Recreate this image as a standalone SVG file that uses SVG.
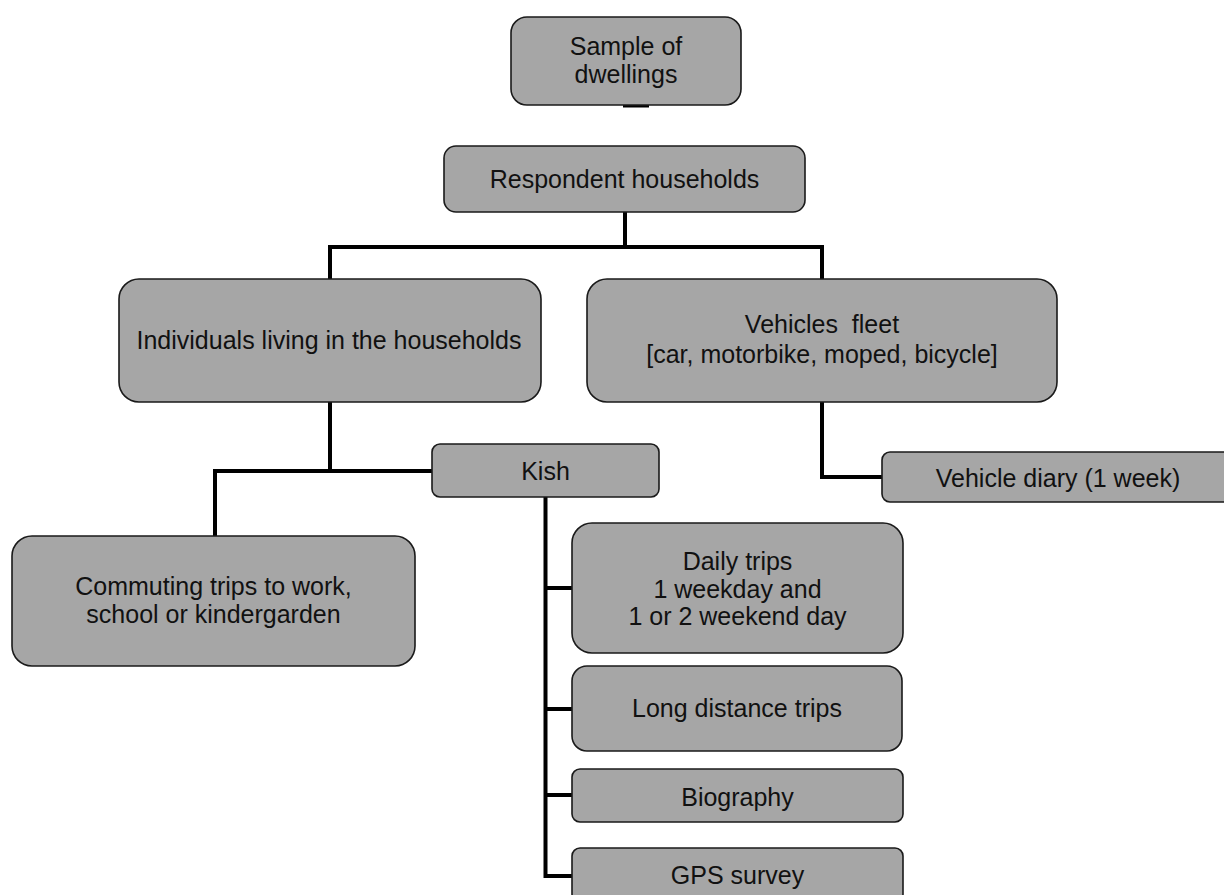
<svg xmlns="http://www.w3.org/2000/svg" width="1224" height="895" viewBox="0 0 1224 895">
<style>
.box{fill:#a6a6a6;stroke:#1a1a1a;stroke-width:1.6}
.t{font-family:"Liberation Sans",Arial,sans-serif;font-size:25px;fill:#111;text-anchor:middle;white-space:pre}
.c{fill:none;stroke:#000;stroke-width:4;stroke-linejoin:miter;stroke-linecap:butt}
</style>
<rect width="1224" height="895" fill="#fff"/>
<g id="connectors">
<line x1="623" y1="106" x2="649" y2="106" stroke="#000" stroke-width="3"/>
<path class="c" d="M625,212 V247 M328,247 H824 M330,247 V279 M822,247 V279"/>
<path class="c" d="M330,402 V473 M213,471 H432 M215,471 V536"/>
<path class="c" d="M545.5,497 V878 M545.5,588 H572 M545.5,709 H572 M545.5,795 H572 M543.5,876 H572"/>
<path class="c" d="M822,402 V477 H882"/>
</g>
<g id="sample"><rect class="box" x="511" y="17" width="230" height="88" rx="16"/><text class="t" x="626" y="55">Sample of</text><text class="t" x="626" y="82.5">dwellings</text></g>
<g id="respondent"><rect class="box" x="444" y="146" width="361" height="66" rx="12"/><text class="t" x="624.5" y="188">Respondent households</text></g>
<g id="individuals"><rect class="box" x="119" y="279" width="422" height="123" rx="20"/><text class="t" x="329" y="349">Individuals living in the households</text></g>
<g id="vehicles"><rect class="box" x="587" y="279" width="470" height="123" rx="20"/><text class="t" x="822" y="333">Vehicles  fleet</text><text class="t" x="822" y="363">[car, motorbike, moped, bicycle]</text></g>
<g id="kish"><rect class="box" x="432" y="444" width="227" height="53" rx="8"/><text class="t" x="545.5" y="480">Kish</text></g>
<g id="vehicle-diary"><rect class="box" x="882" y="452" width="352" height="50" rx="8"/><text class="t" x="1058" y="487">Vehicle diary (1 week)</text></g>
<g id="commuting"><rect class="box" x="12" y="536" width="403" height="130" rx="20"/><text class="t" x="213.5" y="595">Commuting trips to work,</text><text class="t" x="213.5" y="623">school or kindergarden</text></g>
<g id="daily"><rect class="box" x="572" y="523" width="331" height="130" rx="20"/><text class="t" x="737.5" y="570">Daily trips</text><text class="t" x="737.5" y="597.5">1 weekday and</text><text class="t" x="737.5" y="625">1 or 2 weekend day</text></g>
<g id="long-distance"><rect class="box" x="572" y="666" width="330" height="85" rx="15"/><text class="t" x="737" y="717">Long distance trips</text></g>
<g id="biography"><rect class="box" x="572" y="769" width="331" height="53" rx="8"/><text class="t" x="737.5" y="805.5">Biography</text></g>
<g id="gps"><rect class="box" x="572" y="848" width="331" height="54" rx="8"/><text class="t" x="737.5" y="884">GPS survey</text></g>
</svg>
